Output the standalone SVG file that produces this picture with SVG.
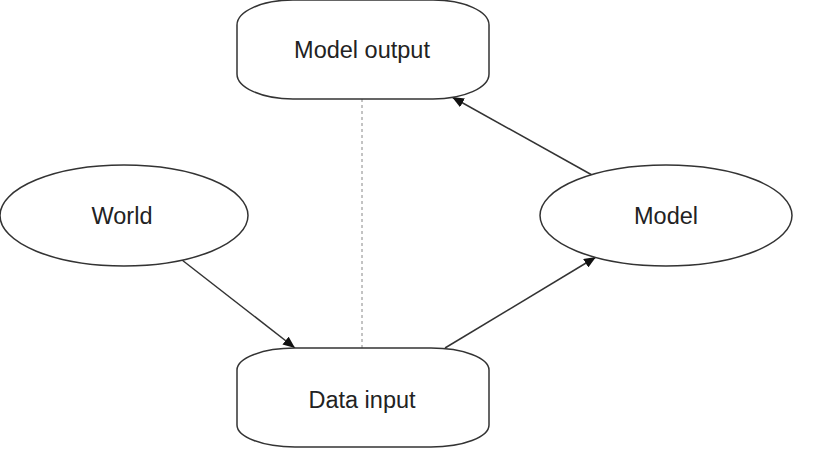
<svg xmlns="http://www.w3.org/2000/svg" width="822" height="453" viewBox="0 0 822 453">
<style>
.shape{fill:#fff;stroke:#333;stroke-width:1.5}
.lbl{font-family:"Liberation Sans",Arial,sans-serif;font-size:23.5px;fill:#222;text-anchor:middle}
.edge{stroke:#333;stroke-width:1.5;fill:none}
.dash{stroke:#888;stroke-width:1;stroke-dasharray:3,3;fill:none}
</style>
<defs>
<marker id="arr" viewBox="0 0 12 10" refX="12" refY="5" markerWidth="12" markerHeight="10" markerUnits="userSpaceOnUse" orient="auto">
<path d="M0,0 L12,5 L0,10 z" fill="#111"/>
</marker>
</defs>
<g id="connectors">
<line class="dash" x1="362" y1="99" x2="362" y2="348"/>
<line class="edge" x1="182" y1="260" x2="295" y2="348" marker-end="url(#arr)"/>
<line class="edge" x1="445" y1="348" x2="596" y2="257" marker-end="url(#arr)"/>
<line class="edge" x1="592" y1="175" x2="452" y2="97" marker-end="url(#arr)"/>
</g>
<g id="model-output">
<rect class="shape" x="237" y="0" width="252" height="99" rx="56" ry="25"/>
<text class="lbl" x="362" y="58">Model output</text>
</g>
<g id="data-input">
<rect class="shape" x="237" y="348" width="252" height="99" rx="58" ry="22"/>
<text class="lbl" x="362" y="408">Data input</text>
</g>
<g id="world">
<ellipse class="shape" cx="124" cy="215.5" rx="124" ry="50.5"/>
<text class="lbl" x="122" y="224">World</text>
</g>
<g id="model">
<ellipse class="shape" cx="666" cy="215.5" rx="126" ry="50.5"/>
<text class="lbl" x="666" y="224">Model</text>
</g>
</svg>
